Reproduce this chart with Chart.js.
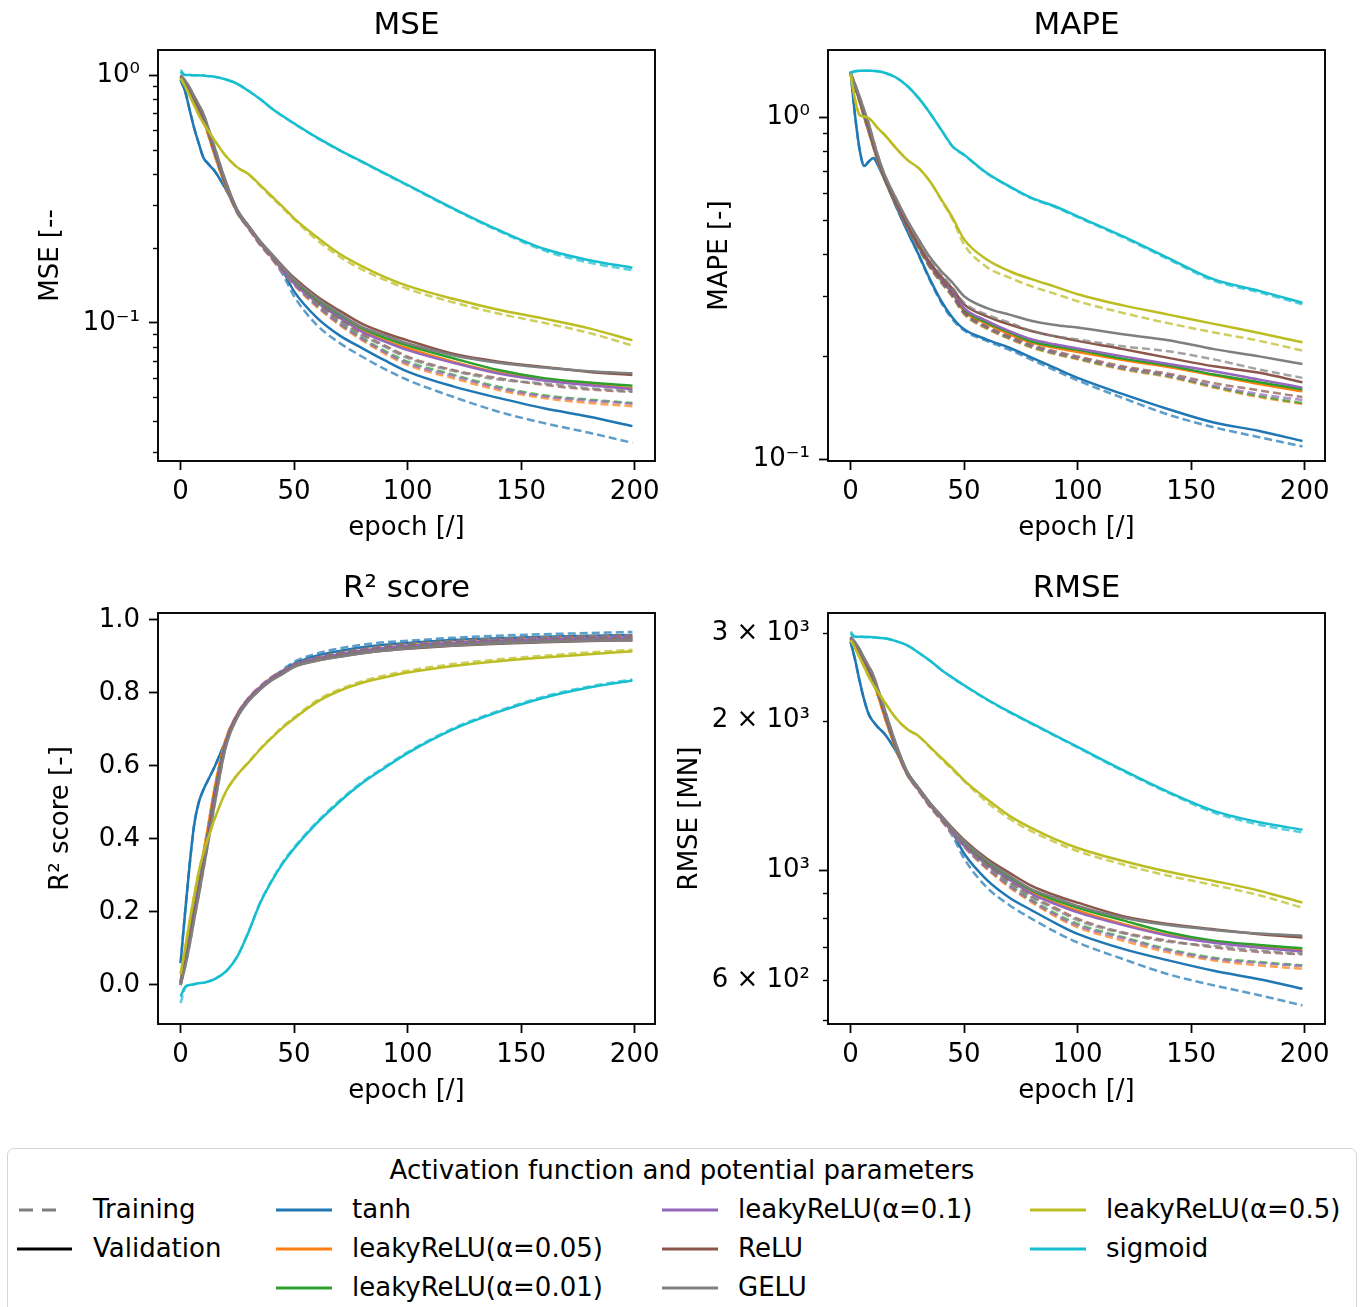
<!DOCTYPE html>
<html>
<head>
<meta charset="utf-8">
<title>Activation function comparison</title>
<script src="https://cdn.jsdelivr.net/npm/chart.js@4.4.0/dist/chart.umd.min.js"></script>
<style>
  body { margin: 0; background: #fff; }
  #page { position: relative; width: 1360px; height: 1307px; overflow: hidden; font-family: 'DejaVu Sans', sans-serif; color: #000; }
  canvas { position: absolute; }
  #legendBox { position: absolute; left: 7px; top: 1148px; width: 1350px; height: 190px; border: 1.5px solid #d4d4d4; border-radius: 7px; box-sizing: border-box; }
  .lg { position: absolute; font-size: 26px; line-height: 31px; height: 31px; white-space: nowrap; }
  .sw { position: absolute; }
</style>
</head>
<body>
<div id="page">
  <canvas id="mse" width="680" height="560" style="left:0;top:0"></canvas>
  <canvas id="mape" width="690" height="560" style="left:670px;top:0"></canvas>
  <canvas id="r2" width="680" height="560" style="left:0;top:563px"></canvas>
  <canvas id="rmse" width="690" height="560" style="left:670px;top:563px"></canvas>
  <div id="legendBox"></div>
</div>
<script>
const epochs = [0, 2, 4, 6, 8, 10, 12, 15, 20, 25, 30, 35, 40, 45, 50, 60, 70, 80, 90, 100, 120, 140, 160, 180, 199];

const activations = ['tanh', 'leakyReLU(α=0.05)', 'leakyReLU(α=0.01)', 'leakyReLU(α=0.1)', 'ReLU', 'GELU', 'leakyReLU(α=0.5)', 'sigmoid'];
const colors = ['#1f77b4', '#ff7f0e', '#2ca02c', '#9467bd', '#8c564b', '#7f7f7f', '#bcbd22', '#17becf'];

// MSE, rows follow the activations order
const mseVal = [
  [0.955,0.86,0.722,0.61,0.53,0.465,0.44,0.41,0.345,0.283,0.245,0.212,0.186,0.162,0.134,0.105,0.089,0.079,0.0705,0.0636,0.0554,0.0498,0.0452,0.0418,0.0383],
  [0.975,0.92,0.85,0.78,0.715,0.655,0.58,0.475,0.352,0.278,0.241,0.209,0.185,0.163,0.145,0.122,0.106,0.093,0.085,0.079,0.0697,0.063,0.059,0.0565,0.0545],
  [0.98,0.93,0.865,0.795,0.73,0.67,0.595,0.487,0.358,0.28,0.243,0.211,0.187,0.165,0.147,0.124,0.107,0.095,0.087,0.081,0.072,0.0645,0.0598,0.0574,0.0557],
  [0.985,0.935,0.87,0.8,0.735,0.675,0.6,0.49,0.36,0.28,0.242,0.21,0.186,0.164,0.144,0.121,0.105,0.092,0.084,0.0776,0.069,0.0625,0.0585,0.056,0.054],
  [0.99,0.94,0.88,0.81,0.745,0.685,0.61,0.5,0.365,0.285,0.246,0.214,0.19,0.169,0.152,0.128,0.112,0.099,0.091,0.085,0.075,0.0697,0.0664,0.0634,0.0616],
  [1.0,0.95,0.89,0.82,0.76,0.7,0.62,0.51,0.37,0.285,0.245,0.213,0.19,0.168,0.15,0.126,0.109,0.096,0.089,0.0825,0.074,0.069,0.066,0.0638,0.0626],
  [0.97,0.9,0.824,0.755,0.69,0.64,0.6,0.545,0.47,0.424,0.398,0.36,0.325,0.294,0.264,0.222,0.19,0.169,0.153,0.141,0.125,0.113,0.104,0.095,0.085],
  [1.03,1.0,1.0,0.998,0.997,0.995,0.99,0.985,0.96,0.922,0.862,0.8,0.735,0.683,0.638,0.56,0.498,0.447,0.401,0.36,0.29,0.237,0.199,0.179,0.167]
];
const mseTrain = [
  [0.955,0.86,0.722,0.61,0.53,0.465,0.44,0.41,0.345,0.283,0.244,0.21,0.183,0.157,0.128,0.098,0.083,0.073,0.065,0.0588,0.0503,0.0438,0.0394,0.036,0.0328],
  [0.975,0.92,0.85,0.78,0.715,0.655,0.58,0.475,0.352,0.277,0.239,0.206,0.182,0.16,0.142,0.116,0.098,0.085,0.075,0.0676,0.0598,0.0536,0.0497,0.0475,0.0461],
  [0.98,0.93,0.865,0.795,0.73,0.67,0.595,0.487,0.358,0.279,0.241,0.208,0.184,0.162,0.144,0.118,0.1,0.087,0.077,0.0697,0.0618,0.0552,0.051,0.049,0.0475],
  [0.985,0.935,0.87,0.8,0.735,0.675,0.6,0.49,0.36,0.279,0.24,0.207,0.183,0.161,0.143,0.117,0.099,0.086,0.076,0.0686,0.061,0.0545,0.0505,0.0485,0.0472],
  [0.99,0.94,0.88,0.81,0.745,0.685,0.61,0.5,0.365,0.284,0.244,0.211,0.187,0.166,0.147,0.121,0.103,0.09,0.081,0.0731,0.0645,0.0598,0.0562,0.0538,0.0527],
  [1.0,0.95,0.89,0.82,0.76,0.7,0.62,0.51,0.37,0.284,0.243,0.21,0.186,0.165,0.146,0.12,0.102,0.089,0.08,0.072,0.064,0.059,0.057,0.0545,0.053],
  [0.97,0.9,0.824,0.755,0.69,0.64,0.6,0.545,0.47,0.424,0.397,0.358,0.322,0.291,0.262,0.216,0.185,0.164,0.149,0.137,0.121,0.109,0.1,0.091,0.081],
  [1.05,1.0,1.0,0.998,0.997,0.995,0.99,0.985,0.96,0.922,0.862,0.8,0.735,0.682,0.636,0.558,0.496,0.445,0.399,0.358,0.288,0.235,0.196,0.175,0.163]
];

// MAPE
const mapeVal = [
  [1.363,1.01,0.805,0.722,0.744,0.761,0.727,0.658,0.55,0.465,0.397,0.336,0.29,0.259,0.24,0.224,0.212,0.198,0.185,0.173,0.155,0.14,0.128,0.121,0.113],
  [1.34,1.225,1.11,1.0,0.905,0.82,0.745,0.66,0.558,0.477,0.417,0.368,0.333,0.305,0.271,0.249,0.232,0.219,0.212,0.206,0.195,0.186,0.176,0.166,0.158],
  [1.347,1.23,1.12,1.01,0.915,0.828,0.75,0.662,0.56,0.478,0.418,0.369,0.334,0.306,0.274,0.251,0.235,0.221,0.214,0.209,0.197,0.188,0.177,0.168,0.16],
  [1.347,1.232,1.126,1.018,0.92,0.832,0.752,0.665,0.562,0.48,0.42,0.371,0.336,0.308,0.277,0.254,0.237,0.224,0.217,0.211,0.2,0.19,0.181,0.171,0.162],
  [1.347,1.24,1.135,1.03,0.935,0.84,0.76,0.668,0.566,0.485,0.425,0.376,0.342,0.315,0.284,0.262,0.248,0.237,0.229,0.222,0.21,0.198,0.187,0.179,0.168],
  [1.35,1.25,1.15,1.05,0.96,0.86,0.775,0.68,0.58,0.5,0.44,0.39,0.355,0.328,0.3,0.277,0.265,0.254,0.247,0.243,0.232,0.223,0.21,0.2,0.19],
  [1.347,1.126,1.018,1.007,0.996,0.967,0.931,0.89,0.814,0.752,0.711,0.65,0.575,0.508,0.44,0.384,0.355,0.336,0.32,0.304,0.282,0.265,0.249,0.234,0.22],
  [1.353,1.366,1.372,1.372,1.372,1.369,1.366,1.353,1.31,1.237,1.14,1.03,0.92,0.823,0.778,0.688,0.629,0.581,0.55,0.514,0.449,0.388,0.336,0.311,0.287]
];
const mapeTrain = [
  [1.363,1.01,0.805,0.722,0.744,0.761,0.727,0.658,0.55,0.465,0.395,0.333,0.287,0.256,0.238,0.222,0.209,0.195,0.182,0.17,0.151,0.135,0.124,0.116,0.109],
  [1.34,1.225,1.11,1.0,0.905,0.82,0.745,0.66,0.556,0.474,0.413,0.363,0.328,0.298,0.266,0.241,0.225,0.212,0.203,0.196,0.183,0.174,0.162,0.152,0.145],
  [1.347,1.23,1.12,1.01,0.915,0.828,0.75,0.662,0.558,0.475,0.414,0.364,0.329,0.299,0.267,0.242,0.226,0.213,0.204,0.197,0.184,0.175,0.163,0.153,0.146],
  [1.347,1.232,1.126,1.018,0.92,0.832,0.752,0.665,0.56,0.477,0.416,0.366,0.33,0.3,0.268,0.243,0.227,0.214,0.205,0.198,0.185,0.176,0.164,0.155,0.149],
  [1.347,1.24,1.135,1.03,0.935,0.84,0.76,0.668,0.564,0.482,0.42,0.37,0.334,0.303,0.27,0.245,0.229,0.216,0.207,0.2,0.187,0.178,0.167,0.159,0.152],
  [1.35,1.25,1.15,1.05,0.96,0.86,0.775,0.68,0.578,0.497,0.435,0.384,0.347,0.317,0.287,0.265,0.251,0.237,0.229,0.224,0.214,0.207,0.196,0.183,0.173],
  [1.347,1.126,1.018,1.007,0.996,0.967,0.931,0.89,0.814,0.752,0.711,0.65,0.572,0.502,0.425,0.365,0.34,0.32,0.305,0.29,0.268,0.25,0.235,0.222,0.208],
  [1.353,1.366,1.372,1.372,1.372,1.369,1.366,1.353,1.31,1.237,1.14,1.03,0.918,0.82,0.776,0.686,0.627,0.579,0.547,0.511,0.446,0.385,0.333,0.308,0.284]
];

// R² score
const r2Val = [
  [0.06,0.2,0.33,0.44,0.5,0.534,0.56,0.598,0.67,0.735,0.78,0.812,0.838,0.86,0.88,0.902,0.915,0.925,0.932,0.937,0.945,0.95,0.954,0.957,0.959],
  [0.01,0.08,0.15,0.225,0.29,0.36,0.43,0.54,0.675,0.742,0.785,0.815,0.84,0.858,0.875,0.893,0.905,0.915,0.922,0.928,0.936,0.942,0.946,0.949,0.951],
  [0.005,0.07,0.135,0.205,0.27,0.34,0.415,0.525,0.668,0.74,0.783,0.813,0.838,0.856,0.874,0.892,0.904,0.914,0.921,0.927,0.935,0.941,0.945,0.948,0.95],
  [0.005,0.065,0.13,0.2,0.265,0.335,0.41,0.52,0.667,0.741,0.785,0.815,0.84,0.858,0.876,0.894,0.906,0.916,0.923,0.929,0.937,0.943,0.947,0.95,0.952],
  [0.0,0.06,0.12,0.19,0.255,0.325,0.395,0.505,0.66,0.735,0.78,0.81,0.835,0.853,0.872,0.889,0.9,0.909,0.916,0.921,0.929,0.935,0.939,0.942,0.944],
  [0.0,0.05,0.11,0.18,0.245,0.315,0.385,0.495,0.655,0.733,0.778,0.809,0.834,0.852,0.871,0.888,0.899,0.909,0.916,0.922,0.93,0.936,0.94,0.943,0.945],
  [0.03,0.1,0.176,0.245,0.31,0.36,0.4,0.455,0.53,0.576,0.61,0.645,0.676,0.705,0.73,0.775,0.806,0.828,0.843,0.856,0.874,0.887,0.897,0.906,0.914],
  [-0.032,-0.005,0.0,0.002,0.005,0.006,0.009,0.016,0.037,0.078,0.146,0.224,0.283,0.333,0.374,0.443,0.502,0.553,0.595,0.635,0.7,0.748,0.787,0.815,0.834]
];
const r2Train = [
  [0.06,0.2,0.33,0.44,0.5,0.534,0.56,0.598,0.67,0.735,0.781,0.814,0.841,0.864,0.885,0.908,0.922,0.932,0.939,0.943,0.951,0.957,0.961,0.964,0.967],
  [0.01,0.08,0.15,0.225,0.29,0.36,0.43,0.54,0.675,0.743,0.787,0.818,0.843,0.861,0.878,0.897,0.91,0.92,0.928,0.934,0.942,0.948,0.952,0.955,0.957],
  [0.005,0.07,0.135,0.205,0.27,0.34,0.415,0.525,0.668,0.741,0.785,0.816,0.841,0.859,0.877,0.896,0.909,0.919,0.927,0.933,0.941,0.947,0.951,0.954,0.956],
  [0.005,0.065,0.13,0.2,0.265,0.335,0.41,0.52,0.667,0.742,0.787,0.818,0.843,0.861,0.878,0.897,0.909,0.92,0.927,0.933,0.941,0.947,0.951,0.954,0.956],
  [0.0,0.06,0.12,0.19,0.255,0.325,0.395,0.505,0.66,0.736,0.782,0.813,0.838,0.857,0.875,0.894,0.906,0.916,0.923,0.929,0.937,0.942,0.946,0.949,0.951],
  [0.0,0.05,0.11,0.18,0.245,0.315,0.385,0.495,0.655,0.734,0.78,0.812,0.837,0.856,0.874,0.893,0.905,0.915,0.922,0.928,0.936,0.941,0.945,0.948,0.95],
  [0.03,0.1,0.176,0.245,0.31,0.36,0.4,0.455,0.53,0.576,0.611,0.647,0.678,0.708,0.733,0.779,0.81,0.832,0.848,0.861,0.879,0.892,0.902,0.911,0.918],
  [-0.05,-0.008,0.0,0.002,0.005,0.006,0.009,0.016,0.037,0.078,0.147,0.226,0.285,0.336,0.377,0.446,0.505,0.556,0.598,0.638,0.703,0.751,0.79,0.818,0.837]
];

// RMSE [MN]
const rmseVal = [
  [2883,2650,2400,2200,2060,1990,1940,1880,1735,1569,1460,1358,1272,1187,1080,956,880,829,783,744,694,658,627,603,577],
  [2913,2830,2720,2605,2494,2387,2247,2033,1750,1555,1448,1349,1269,1191,1123,1030,960,900,860,829,779,740,717,701,689],
  [2920,2845,2744,2630,2520,2415,2276,2059,1765,1561,1454,1355,1276,1198,1131,1039,965,909,870,840,792,749,721,707,696],
  [2928,2853,2752,2639,2529,2424,2285,2065,1770,1561,1451,1352,1272,1195,1119,1026,956,895,855,822,775,738,714,698,686],
  [2935,2860,2767,2655,2546,2442,2304,2086,1782,1575,1463,1365,1286,1213,1150,1055,987,928,890,860,808,779,760,743,732],
  [2950,2875,2783,2671,2572,2468,2323,2107,1794,1575,1460,1361,1286,1209,1143,1047,974,914,880,847,802,775,758,745,738],
  [2905,2799,2678,2563,2450,2360,2285,2178,2022,1921,1861,1770,1682,1600,1516,1390,1286,1213,1154,1108,1043,992,951,909,860],
  [2994,2950,2950,2947,2946,2943,2935,2928,2890,2833,2739,2639,2529,2438,2356,2208,2082,1972,1868,1770,1589,1436,1316,1248,1206]
];
const rmseTrain = [
  [2883,2650,2400,2200,2060,1990,1940,1880,1735,1569,1457,1352,1262,1169,1055,923,850,797,752,715,662,617,586,560,534],
  [2913,2830,2720,2605,2494,2387,2247,2033,1750,1553,1442,1339,1258,1180,1112,1005,923,860,808,767,721,683,658,643,633],
  [2920,2845,2744,2630,2520,2415,2276,2059,1765,1558,1448,1345,1265,1187,1119,1013,933,870,819,779,733,693,666,653,643],
  [2928,2853,2752,2639,2529,2424,2285,2065,1770,1558,1445,1342,1262,1184,1116,1009,928,865,813,773,729,689,663,650,641],
  [2935,2860,2767,2655,2546,2442,2304,2086,1782,1572,1457,1355,1276,1202,1131,1026,947,885,840,798,749,721,699,684,677],
  [2950,2875,2783,2671,2572,2468,2323,2107,1794,1572,1455,1352,1272,1198,1127,1022,942,880,834,792,746,717,704,689,679],
  [2905,2799,2678,2563,2450,2360,2285,2178,2022,1921,1859,1765,1674,1591,1510,1371,1269,1195,1139,1092,1026,974,933,890,840],
  [3020,2950,2950,2947,2946,2943,2935,2928,2890,2833,2739,2639,2529,2436,2353,2203,2078,1968,1864,1765,1583,1430,1306,1234,1191]
];

// axis ticks
const epochTicks = [0, 50, 100, 150, 200];
const mseTicks = [0.1, 1];
const mseTickLabels = ['10\u207B\u00B9', '10\u2070'];
const mseMinor = [0.03, 0.04, 0.05, 0.06, 0.07, 0.08, 0.09, 0.2, 0.3, 0.4, 0.5, 0.6, 0.7, 0.8, 0.9];
const mapeTicks = [0.1, 1];
const mapeTickLabels = ['10\u207B\u00B9', '10\u2070'];
const mapeMinor = [0.2, 0.3, 0.4, 0.5, 0.6, 0.7, 0.8, 0.9];
const r2Ticks = [0, 0.2, 0.4, 0.6, 0.8, 1.0];
const r2TickLabels = ['0.0', '0.2', '0.4', '0.6', '0.8', '1.0'];
const rmseTicks = [600, 1000, 2000, 3000];
const rmseTickLabels = ['6 \u00D7 10\u00B2', '10\u00B3', '2 \u00D7 10\u00B3', '3 \u00D7 10\u00B3'];
const rmseMinor = [500, 600, 700, 800, 900, 2000, 3000];

const FONT = 'DejaVu Sans';

function fade(hex, a) {
  const n = parseInt(hex.slice(1), 16);
  return `rgba(${n >> 16}, ${(n >> 8) & 255}, ${n & 255}, ${a})`;
}

// axes box + short minor ticks, like matplotlib spines
const framePlugin = {
  id: 'frame',
  afterDraw(chart, args, opts) {
    const { ctx, chartArea: a } = chart;
    const ys = chart.scales.y;
    ctx.save();
    ctx.strokeStyle = '#000';
    ctx.lineWidth = 1.4;
    (opts.minor || []).forEach(v => {
      const p = Math.round(ys.getPixelForValue(v)) + 0.5;
      if (p < a.top || p > a.bottom) return;
      ctx.beginPath();
      ctx.moveTo(a.left - 5, p);
      ctx.lineTo(a.left, p);
      ctx.stroke();
    });
    ctx.lineWidth = 1.9;
    ctx.strokeRect(a.left, a.top, a.right - a.left, a.bottom - a.top);
    ctx.restore();
  }
};

function panel(id, o) {
  const datasets = [];
  activations.forEach((name, i) => {
    datasets.push({
      label: name + ' training',
      data: epochs.map((e, k) => ({ x: e, y: o.train[i][k] })),
      borderColor: fade(colors[i], 0.72),
      borderDash: [8, 4],
      borderWidth: 2.5,
      pointRadius: 0,
      fill: false,
      cubicInterpolationMode: 'monotone'
    });
    datasets.push({
      label: name + ' validation',
      data: epochs.map((e, k) => ({ x: e, y: o.val[i][k] })),
      borderColor: colors[i],
      borderWidth: 2.5,
      pointRadius: 0,
      fill: false,
      cubicInterpolationMode: 'monotone'
    });
  });
  // chart.js paints the first dataset last, matplotlib paints the last one on top
  datasets.reverse();

  const tickFont = { family: FONT, size: 26 };
  new Chart(document.getElementById(id), {
    type: 'line',
    data: { datasets },
    options: {
      responsive: false,
      animation: false,
      devicePixelRatio: 1,
      layout: { padding: { left: 0, right: o.padRight, top: 0, bottom: 0 } },
      plugins: {
        legend: { display: false },
        tooltip: { enabled: false },
        title: {
          display: true,
          text: o.title,
          fullSize: false,
          color: '#000',
          font: { family: FONT, size: 31, weight: 'normal' },
          padding: { top: 7, bottom: 5.8 }
        },
        frame: { minor: o.minor }
      },
      scales: {
        x: {
          type: 'linear',
          min: -9.95,
          max: 208.95,
          afterBuildTicks: s => { s.ticks = epochTicks.map(v => ({ value: v })); },
          afterFit: s => { s.height = 99; },
          ticks: { font: tickFont, color: '#000', padding: 7, autoSkip: false, maxRotation: 0, callback: v => String(v) },
          grid: { drawOnChartArea: false, drawTicks: true, tickLength: 9, tickWidth: 1.8, tickColor: '#000' },
          border: { display: false },
          title: { display: true, text: 'epoch [/]', color: '#000', font: tickFont, padding: { top: 0, bottom: 16 } }
        },
        y: {
          type: o.type,
          min: o.min,
          max: o.max,
          afterBuildTicks: s => { s.ticks = o.ticks.map(v => ({ value: v })); },
          afterFit: s => { s.width = 158; },
          ticks: { font: tickFont, color: '#000', padding: 9, autoSkip: false, callback: (v, i) => o.tickLabels[i] },
          grid: {
            drawOnChartArea: false, drawTicks: true, tickLength: 9, tickWidth: 1.8,
            tickColor: c => (!o.shortTicks || !o.shortTicks.includes(c.tick.value)) ? '#000' : 'rgba(0,0,0,0)'
          },
          border: { display: false },
          title: { display: true, text: o.yTitle, color: '#000', font: tickFont, padding: { top: o.titlePad, bottom: 0 } }
        }
      }
    },
    plugins: [framePlugin]
  });
}

panel('mse', {
  title: 'MSE', yTitle: 'MSE [--', type: 'logarithmic', min: 0.0277, max: 1.262,
  ticks: mseTicks, tickLabels: mseTickLabels, minor: mseMinor,
  val: mseVal, train: mseTrain, padRight: 25, titlePad: 36
});
panel('mape', {
  title: 'MAPE', yTitle: 'MAPE [-]', type: 'logarithmic', min: 0.0988, max: 1.577,
  ticks: mapeTicks, tickLabels: mapeTickLabels, minor: mapeMinor,
  val: mapeVal, train: mapeTrain, padRight: 35, titlePad: 35
});
panel('r2', {
  title: 'R\u00B2 score', yTitle: 'R\u00B2 score [-]', type: 'linear', min: -0.107, max: 1.019,
  ticks: r2Ticks, tickLabels: r2TickLabels, minor: [],
  val: r2Val, train: r2Train, padRight: 25, titlePad: 46
});
panel('rmse', {
  title: 'RMSE', yTitle: 'RMSE [MN]', type: 'logarithmic', min: 490, max: 3293,
  ticks: rmseTicks, tickLabels: rmseTickLabels, minor: rmseMinor, shortTicks: [600, 2000, 3000],
  val: rmseVal, train: rmseTrain, padRight: 35, titlePad: 5
});

// legend below the four panels
const page = document.getElementById('page');
const rowY = [1210, 1249, 1288];
const colX = [19, 276, 662, 1030];
const textX = [93, 352, 738, 1106];

function addText(txt, x, yMid, extra) {
  const d = document.createElement('div');
  d.className = 'lg';
  d.textContent = txt;
  d.style.left = x + 'px';
  d.style.top = (yMid - 16) + 'px';
  if (extra) Object.assign(d.style, extra);
  page.appendChild(d);
}
function addSwatch(x, yMid, len, color, dash) {
  const ns = 'http://www.w3.org/2000/svg';
  const svg = document.createElementNS(ns, 'svg');
  svg.setAttribute('class', 'sw');
  svg.setAttribute('width', len);
  svg.setAttribute('height', 8);
  svg.style.left = x + 'px';
  svg.style.top = (yMid - 4) + 'px';
  const ln = document.createElementNS(ns, 'line');
  ln.setAttribute('x1', 0); ln.setAttribute('y1', 4);
  ln.setAttribute('x2', len); ln.setAttribute('y2', 4);
  ln.setAttribute('stroke', color);
  ln.setAttribute('stroke-width', 2.8);
  if (dash) ln.setAttribute('stroke-dasharray', dash);
  svg.appendChild(ln);
  page.appendChild(svg);
}

addText('Activation function and potential parameters', 0, 1171, { width: '1364px', textAlign: 'center' });
addSwatch(colX[0], rowY[0], 38, '#7f7f7f', '14 9');
addText('Training', textX[0], rowY[0]);
addSwatch(colX[0] - 2, rowY[1], 55, '#000');
addText('Validation', textX[0], rowY[1]);
activations.forEach((name, i) => {
  const col = 1 + Math.floor(i / 3);
  const row = i % 3;
  addSwatch(colX[col], rowY[row], 56, colors[i]);
  addText(name, textX[col], rowY[row]);
});
</script>
</body>
</html>
